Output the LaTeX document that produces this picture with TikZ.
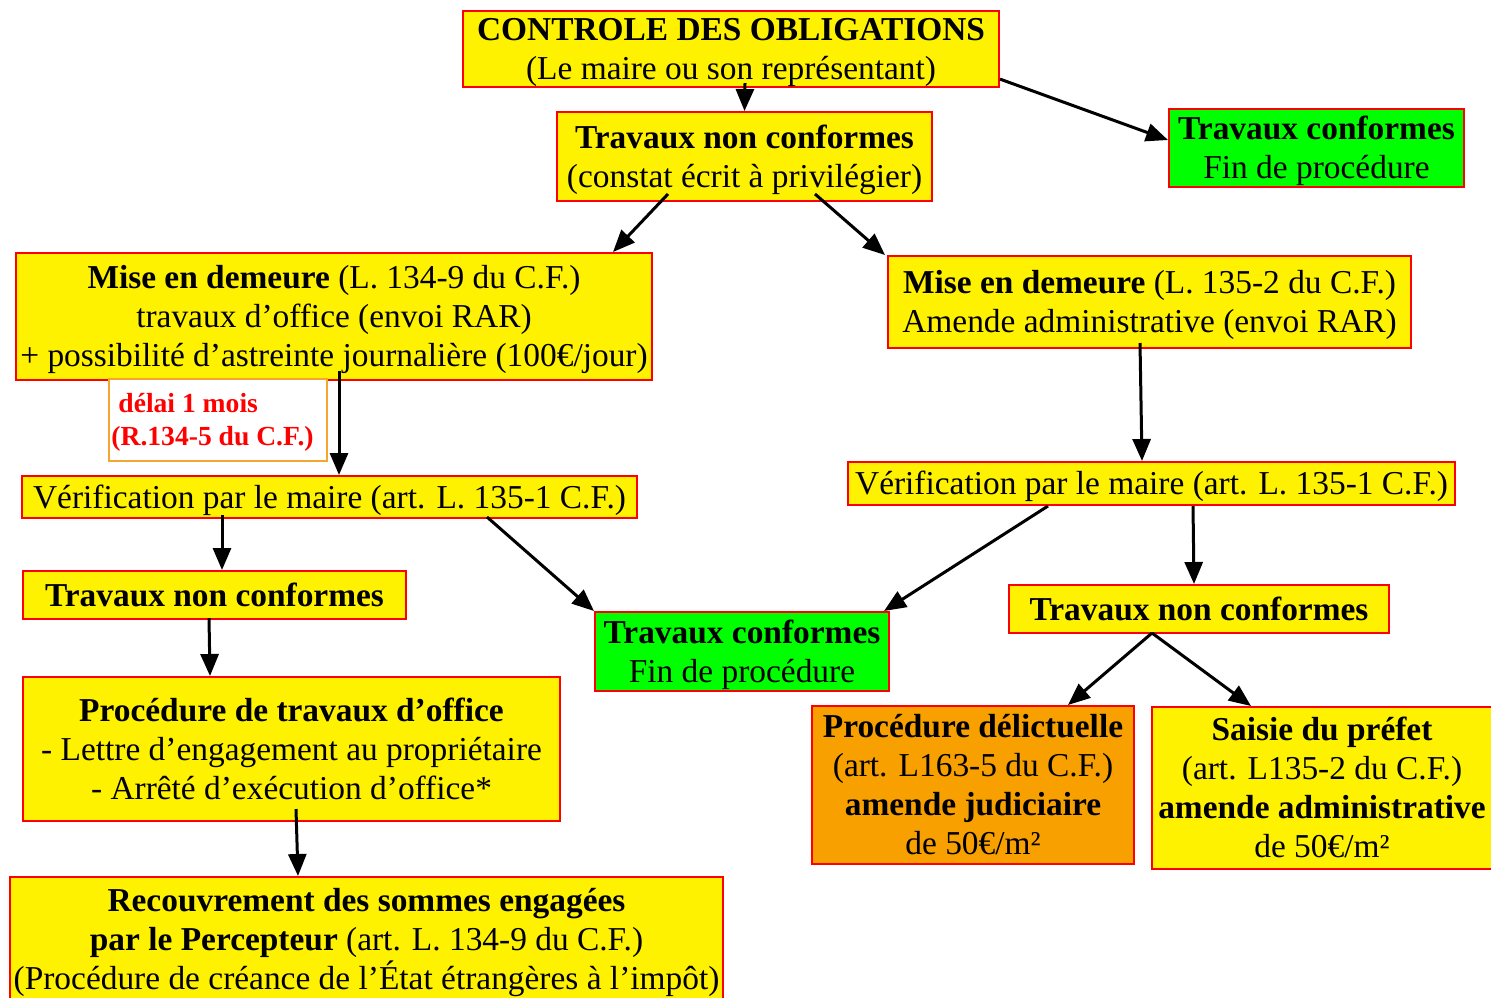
\documentclass[tikz,border=0pt]{standalone}
\usepackage{fontspec}
\setmainfont{Liberation Serif}
\usetikzlibrary{arrows.meta}

\definecolor{penalorange}{RGB}{247,160,0}
\definecolor{noteorange}{RGB}{245,165,50}

\begin{document}
\begin{tikzpicture}[
    x=0.5pt, y=-0.5pt,
    every node/.style={font=\fontsize{16.7}{19.5}\selectfont, inner sep=0pt, align=center},
    block/.style={rectangle, draw=red, line width=1pt, fill=yellow, text height=15pt, text depth=3.6pt},
    endblock/.style={block, fill=green},
    penalblock/.style={block, fill=penalorange},
    twoline/.style={text height=34.5pt},
    threeline/.style={text height=54pt},
    fourline/.style={text height=73.5pt},
    note/.style={rectangle, draw=noteorange, line width=1pt, fill=white, text=red, align=left,
        font=\fontsize{13.8}{16.5}\selectfont\bfseries, text height=28pt, text depth=3pt},
    arr/.style={-{Triangle[length=11pt, width=9pt]}, line width=1.5pt}
]
\useasboundingbox (0,0) rectangle (1491,997);

\node[block, twoline, minimum width=268pt, minimum height=38pt] (ctrl) at (731,49)
    {\textbf{CONTROLE DES OBLIGATIONS}\\(Le maire ou son représentant)};
\node[block, twoline, minimum width=187.5pt, minimum height=44.5pt] (tnc1) at (744.5,156.5)
    {\textbf{Travaux non conformes}\\(constat écrit à privilégier)};
\node[endblock, twoline, minimum width=147.5pt, minimum height=39pt] (tc1) at (1316.5,148)
    {\textbf{Travaux conformes}\\Fin de procédure};
\node[block, threeline, minimum width=318pt, minimum height=63.5pt] (mise1) at (334,316.5)
    {\textbf{Mise en demeure} (L. 134-9 du C.F.)\\travaux d’office (envoi RAR)\\+ possibilité d’astreinte journalière (100€/jour)};
\node[block, twoline, minimum width=261.5pt, minimum height=46pt] (mise2) at (1149.5,302)
    {\textbf{Mise en demeure} (L. 135-2 du C.F.)\\Amende administrative (envoi RAR)};
\node[note, minimum width=109pt, minimum height=41pt] (delai) at (218,420)
    {\hspace*{3.5pt}délai 1 mois\\(R.134-5 du C.F.)\hspace*{5.5pt}};
\node[block, minimum width=307.5pt, minimum height=21pt] (verif1) at (329.5,497)
    {Vérification par le maire (art. L. 135-1 C.F.)};
\node[block, minimum width=303.5pt, minimum height=21.5pt] (verif2) at (1151.5,483.5)
    {Vérification par le maire (art. L. 135-1 C.F.)};
\node[block, minimum width=191.5pt, minimum height=24pt] (tnc2) at (214.5,595)
    {\textbf{Travaux non conformes}};
\node[endblock, twoline, minimum width=147pt, minimum height=39.5pt] (tc2) at (742,651.5)
    {\textbf{Travaux conformes}\\Fin de procédure};
\node[block, minimum width=190pt, minimum height=24pt] (tnc3) at (1199,609)
    {\textbf{Travaux non conformes}};
\node[block, threeline, minimum width=268.5pt, minimum height=72pt] (proc) at (291.5,749)
    {\textbf{Procédure de travaux d’office}\\- Lettre d’engagement au propriétaire\\- Arrêté d’exécution d’office*};
\node[penalblock, fourline, minimum width=161pt, minimum height=79pt] (delict) at (973,785)
    {\textbf{Procédure délictuelle}\\(art. L163-5 du C.F.)\\\textbf{amende judiciaire}\\de 50€/m²};
\node[block, fourline, minimum width=170pt, minimum height=81pt] (saisie) at (1322,788)
    {\textbf{Saisie du préfet}\\(art. L135-2 du C.F.)\\\textbf{amende administrative}\\de 50€/m²};
\node[block, threeline, minimum width=356.5pt, minimum height=62pt] (recouv) at (366.5,939)
    {\textbf{Recouvrement des sommes engagées}\\\textbf{par le Percepteur} (art. L. 134-9 du C.F.)\\(Procédure de créance de l’État étrangères à l’impôt)};

% connectors
\draw[arr] ([xshift=7pt,yshift=2.5pt]ctrl.south) -- (tnc1.north);
\draw[arr] ([yshift=4.5pt]ctrl.south east) -- ([yshift=4pt]tc1.west);
\draw[arr] ([xshift=-38.25pt,yshift=4pt]tnc1.south) -- ([xshift=139.5pt]mise1.north);
\draw[arr] ([xshift=35.25pt,yshift=4pt]tnc1.south) -- ([xshift=-1pt]mise2.north west);
\draw[arr] ([xshift=2.5pt,yshift=5pt]mise1.south) -- ([xshift=4.75pt]verif1.north);
\draw[arr] ([xshift=-4.75pt,yshift=3pt]mise2.south) -- ([xshift=-4.75pt]verif2.north);
\draw[arr] ([xshift=-53.75pt,yshift=2pt]verif1.south) -- ([xshift=3.75pt]tnc2.north);
\draw[arr] ([xshift=78.75pt,yshift=1pt]verif1.south) -- (tc2.north west);
\draw[arr] ([xshift=-51.75pt]verif2.south) -- ([xshift=-3pt]tc2.north east);
\draw[arr] ([xshift=20.75pt]verif2.south) -- ([xshift=-2.5pt]tnc3.north);
\draw[arr] ([xshift=-2.75pt,yshift=1pt]tnc2.south) -- ([xshift=-40.75pt]proc.north);
\draw[arr] ([xshift=-23.5pt,yshift=0.5pt]tnc3.south) -- ([xshift=47.5pt]delict.north);
\draw[arr] ([xshift=-23.5pt,yshift=0.5pt]tnc3.south) -- ([xshift=-35.5pt]saisie.north);
\draw[arr] ([xshift=2.25pt,yshift=6.5pt]proc.south) -- ([xshift=-34.25pt]recouv.north);
\end{tikzpicture}
\end{document}
